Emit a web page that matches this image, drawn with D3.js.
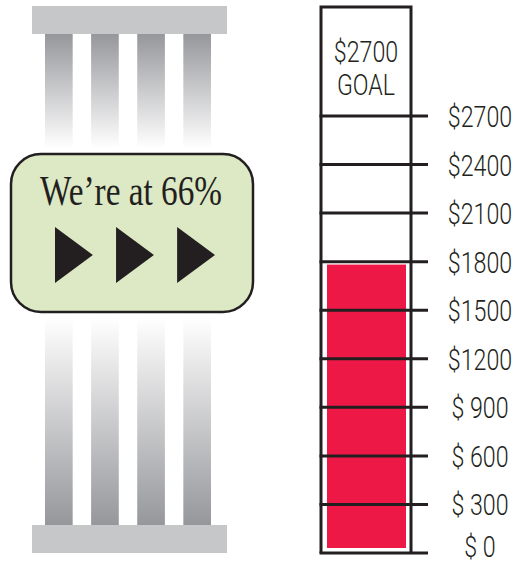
<!DOCTYPE html>
<html>
<head>
<meta charset="utf-8">
<script src="https://cdn.jsdelivr.net/npm/d3@7"></script>
<style>
  body { margin: 0; background: #fff; }
  svg { display: block; }
</style>
</head>
<body>
<svg id="chart" width="528" height="565"></svg>
<script>
// Data --------
let goal = 2700;
let raised = 1782; // 66% of goal
let tickValues = [0, 300, 600, 900, 1200, 1500, 1800, 2100, 2400, 2700];
let tickLabels = ["$ 0", "$ 300", "$ 600", "$ 900", "$1200", "$1500", "$1800", "$2100", "$2400", "$2700"];
let goalLabel = ["$2700", "GOAL"];
let message = "We\u2019re at 66%";
let arrows = [0, 1, 2];
let columns = [0, 1, 2, 3];

let svg = d3.select("#chart");
let ink = "#231f20";
let labelFont = "Roboto, 'Liberation Sans', sans-serif";

// Thermometer scale
let y = d3.scaleLinear().domain([0, goal]).range([553, 116]);
let boxLeft = 321, boxRight = 411, boxTop = 7;

// Gradients for the columns
let defs = svg.append("defs");
let gTop = defs.append("linearGradient").attr("id", "colTop")
    .attr("x1", 0).attr("y1", 0).attr("x2", 0).attr("y2", 1);
gTop.append("stop").attr("offset", "0%").attr("stop-color", "#96979b");
gTop.append("stop").attr("offset", "100%").attr("stop-color", "#ffffff");
let gBot = defs.append("linearGradient").attr("id", "colBot")
    .attr("x1", 0).attr("y1", 0).attr("x2", 0).attr("y2", 1);
gBot.append("stop").attr("offset", "0%").attr("stop-color", "#ffffff");
gBot.append("stop").attr("offset", "100%").attr("stop-color", "#96979b");

// Column decoration on the left
let colX = d3.scaleBand().domain(columns).range([45, 211]).paddingInner(0.4);

svg.append("rect").attr("x", 32).attr("y", 6).attr("width", 195).attr("height", 28).attr("fill", "#c6c7c9");
svg.append("rect").attr("x", 32).attr("y", 525).attr("width", 195).attr("height", 28).attr("fill", "#c6c7c9");

svg.selectAll(".colTop")
    .data(columns)
    .enter().append("rect")
    .attr("class", "colTop")
    .attr("x", d => colX(d))
    .attr("y", 34)
    .attr("width", colX.bandwidth())
    .attr("height", 114)
    .attr("fill", "url(#colTop)");

svg.selectAll(".colBot")
    .data(columns)
    .enter().append("rect")
    .attr("class", "colBot")
    .attr("x", d => colX(d))
    .attr("y", 318)
    .attr("width", colX.bandwidth())
    .attr("height", 207)
    .attr("fill", "url(#colBot)");

// Green message box
svg.append("rect")
    .attr("x", 11).attr("y", 154)
    .attr("width", 242).attr("height", 158)
    .attr("rx", 30).attr("ry", 30)
    .attr("fill", "#dce9c4")
    .attr("stroke", ink)
    .attr("stroke-width", 2.5);

svg.append("text")
    .attr("x", 131).attr("y", 205)
    .attr("text-anchor", "middle")
    .attr("font-family", "'Liberation Serif', 'Times New Roman', serif")
    .attr("font-size", 42)
    .attr("textLength", 182)
    .attr("lengthAdjust", "spacingAndGlyphs")
    .attr("fill", ink)
    .text(message);

let arrowX = d3.scaleBand().domain(arrows).range([55, 215]).paddingInner(0.38);
svg.selectAll(".arrow")
    .data(arrows)
    .enter().append("path")
    .attr("class", "arrow")
    .attr("d", function (d) {
        let x0 = arrowX(d), w = arrowX.bandwidth();
        return "M" + x0 + ",227 L" + (x0 + w) + ",255 L" + x0 + ",283 Z";
    })
    .attr("fill", ink);

// Thermometer ---------
// Red fill
svg.append("rect")
    .attr("x", boxLeft + 6)
    .attr("y", y(raised))
    .attr("width", boxRight - boxLeft - 11)
    .attr("height", y(0) - 5 - y(raised))
    .attr("fill", "#ee1846");

// Outer frame
svg.append("path")
    .attr("d", "M" + boxLeft + "," + y(0) + " V" + boxTop + " H" + boxRight + " V" + y(0))
    .attr("fill", "none")
    .attr("stroke", ink)
    .attr("stroke-width", 3);

// Tick lines
svg.selectAll(".tick")
    .data(tickValues)
    .enter().append("line")
    .attr("class", "tick")
    .attr("x1", boxLeft - 1.5)
    .attr("x2", 428)
    .attr("y1", d => y(d))
    .attr("y2", d => y(d))
    .attr("stroke", ink)
    .attr("stroke-width", 3);

// Tick labels (condensed by a horizontal scale)
svg.selectAll(".tickLabel")
    .data(tickValues)
    .enter().append("text")
    .attr("class", "tickLabel")
    .attr("transform", d => "translate(480," + Math.min(y(d) + 11, 557) + ") scale(0.8,1)")
    .attr("text-anchor", "middle")
    .attr("font-family", labelFont)
    .attr("font-weight", 300)
    .attr("font-size", 29)
    .attr("fill", ink)
    .text((d, i) => tickLabels[i]);

// Goal label inside the box
svg.selectAll(".goal")
    .data(goalLabel)
    .enter().append("text")
    .attr("class", "goal")
    .attr("transform", (d, i) => "translate(366," + (62 + i * 33) + ") scale(0.8,1)")
    .attr("text-anchor", "middle")
    .attr("font-family", labelFont)
    .attr("font-weight", 300)
    .attr("font-size", 29)
    .attr("fill", ink)
    .text(d => d);
</script>
</body>
</html>
